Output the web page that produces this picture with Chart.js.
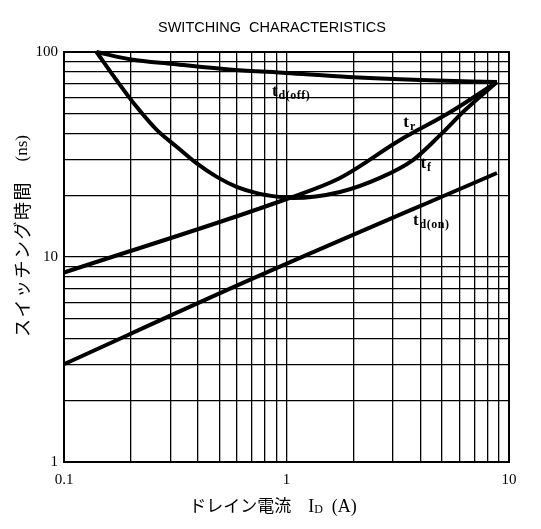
<!DOCTYPE html>
<html>
<head>
<meta charset="utf-8">
<script src="https://cdn.jsdelivr.net/npm/chart.js@4.4.1/dist/chart.umd.min.js"></script>
<style>
  html, body { margin: 0; padding: 0; background: #fff; }
  #wrap { width: 541px; height: 529px; }
</style>
</head>
<body>
<div id="wrap"><canvas id="swChart"></canvas></div>
<script>
// Datos (ID en A, tiempos en ns)
const tdOffI = [0.14, 0.2, 0.31, 0.57, 1, 1.9, 4, 8.83];
const tdOffT = [100, 92, 87.5, 82, 79, 75.5, 73, 71.4];
const trI = [0.1, 1.03, 1.74, 3.24, 5.43, 8.83];
const trT = [8.4, 19.4, 24.3, 37.2, 50.8, 71.4];
const tfI = [0.14, 0.172, 0.212, 0.261, 0.321, 0.395, 0.486, 0.597, 0.735, 0.904, 1.07, 1.74, 2.63, 3.7, 4.9, 6.35, 8.83];
const tfT = [100, 73, 54, 41.7, 34.5, 28.6, 24.6, 22, 20.5, 19.7, 19.4, 20.75, 24.3, 29.7, 39.3, 52.1, 71.4];
const tdOnI = [0.1, 0.66, 8.83];
const tdOnT = [3.0, 7.6, 25.7];

const xTicks = [0.1, 0.2, 0.3, 0.4, 0.5, 0.6, 0.7, 0.8, 0.9, 1, 2, 3, 4, 5, 6, 7, 8, 9, 10];
const yTicks = [1, 2, 3, 4, 5, 6, 7, 8, 9, 10, 20, 30, 40, 50, 60, 70, 80, 90, 100];
const xLabels = ['0.1', '1', '10'];
const yLabels = ['1', '10', '100'];

// etiquetas de las curvas: [principal, subindice, ID, t]
const curveLabels = [
    ['t', 'd(off)', 0.86, 61],
    ['t', 'r', 3.35, 43],
    ['t', 'f', 4.0, 27.2],
    ['t', 'd(on)', 3.7, 14.3]
];

function pts(xs, ys) {
    return xs.map((x, i) => ({ x: x, y: ys[i] }));
}

function serie(xs, ys) {
    return {
        data: pts(xs, ys),
        borderColor: '#000',
        borderWidth: 4,
        pointRadius: 0,
        cubicInterpolationMode: 'monotone',
        clip: 4
    };
}

// marco, titulos y textos con subindice
const extras = {
    id: 'extras',
    afterDraw(chart) {
        const c = chart.ctx;
        const a = chart.chartArea;
        const sx = chart.scales.x, sy = chart.scales.y;
        c.save();
        c.strokeStyle = '#000';
        c.lineWidth = 2;
        c.strokeRect(a.left, a.top, a.right - a.left, a.bottom - a.top);

        c.fillStyle = '#000';
        c.textBaseline = 'alphabetic';
        curveLabels.forEach(l => {
            const px = sx.getPixelForValue(l[2]);
            const py = sy.getPixelForValue(l[3]);
            c.font = 'bold 17px "Liberation Serif"';
            c.fillText(l[0], px, py);
            const w = c.measureText(l[0]).width;
            c.font = 'bold 12px "Liberation Serif"';
            c.letterSpacing = '0.5px';
            c.fillText(l[1], px + w + 1, py + 3);
            c.letterSpacing = '0px';
        });

        // titulo superior
        c.textAlign = 'center';
        c.textBaseline = 'middle';
        c.font = '14.5px "Liberation Sans"';
        c.fillText('SWITCHING  CHARACTERISTICS', 272, 28);

        // titulo del eje y (girado)
        c.save();
        c.translate(22, 236);
        c.rotate(-Math.PI / 2);
        c.font = '18px "Noto Sans CJK JP"';
        c.letterSpacing = '1.5px';
        const yt1 = 'スイッチング時間\u3000';
        const yt2 = '(ns)';
        const wy1 = c.measureText(yt1).width;
        c.font = '17px "Liberation Serif"';
        c.letterSpacing = '0px';
        const wy2 = c.measureText(yt2).width;
        c.textAlign = 'left';
        let y0 = -(wy1 + wy2) / 2;
        c.font = '18px "Noto Sans CJK JP"';
        c.letterSpacing = '1.5px';
        c.fillText(yt1, y0, 0);
        c.font = '17px "Liberation Serif"';
        c.letterSpacing = '0px';
        c.fillText(yt2, y0 + wy1, 1);
        c.restore();

        // titulo del eje x
        c.textAlign = 'left';
        c.textBaseline = 'alphabetic';
        const by = 512;
        const p1 = 'ドレイン電流\u3000';
        c.font = '17px "Noto Sans CJK JP"';
        const w1 = c.measureText(p1).width;
        c.font = '18px "Liberation Serif"';
        const wI = c.measureText('I').width;
        const w3 = c.measureText('  (A)').width;
        c.font = '12px "Liberation Serif"';
        const w2 = c.measureText('D').width;
        let x0 = 273 - (w1 + wI + w2 + w3) / 2;
        c.font = '17px "Noto Sans CJK JP"';
        c.fillText(p1, x0, by);
        c.font = '18px "Liberation Serif"';
        c.fillText('I', x0 + w1, by);
        c.fillText('  (A)', x0 + w1 + wI + w2, by);
        c.font = '12px "Liberation Serif"';
        c.fillText('D', x0 + w1 + wI, by + 1);
        c.restore();
    }
};

new Chart(document.getElementById('swChart'), {
    type: 'line',
    data: {
        datasets: [
            serie(tdOffI, tdOffT),
            serie(trI, trT),
            serie(tfI, tfT),
            serie(tdOnI, tdOnT)
        ]
    },
    options: {
        responsive: true,
        maintainAspectRatio: false,
        animation: false,
        layout: { padding: { top: 52, right: 32, left: 0, bottom: 0 } },
        plugins: {
            legend: { display: false },
            tooltip: { enabled: false },
            title: { display: false }
        },
        scales: {
            x: {
                type: 'logarithmic',
                min: 0.1,
                max: 10,
                afterBuildTicks: s => { s.ticks = xTicks.map(v => ({ value: v })); },
                afterFit: s => { s.height = 67; },
                ticks: {
                    color: '#000',
                    autoSkip: false,
                    maxRotation: 0,
                    padding: 9,
                    font: { family: 'Liberation Serif', size: 15 },
                    callback: v => xLabels.includes(String(v)) ? String(v) : ''
                },
                grid: { color: '#000', lineWidth: 1.3, drawTicks: false },
                border: { display: false }
            },
            y: {
                type: 'logarithmic',
                min: 1,
                max: 100,
                afterBuildTicks: s => { s.ticks = yTicks.map(v => ({ value: v })); },
                afterFit: s => { s.width = 64; },
                ticks: {
                    color: '#000',
                    autoSkip: false,
                    padding: 6,
                    font: { family: 'Liberation Serif', size: 15 },
                    callback: v => yLabels.includes(String(v)) ? String(v) : ''
                },
                grid: { color: '#000', lineWidth: 1.3, drawTicks: false },
                border: { display: false }
            }
        }
    },
    plugins: [extras]
});
</script>
</body>
</html>
